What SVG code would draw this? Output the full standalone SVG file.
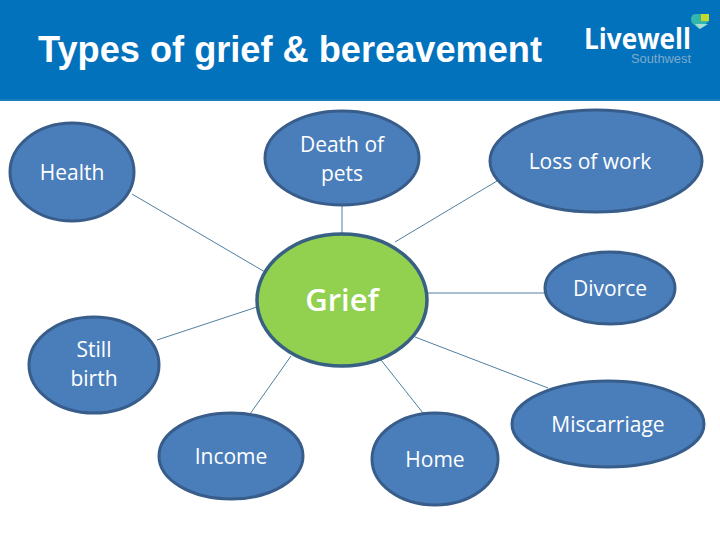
<svg xmlns="http://www.w3.org/2000/svg" width="720" height="540" viewBox="0 0 720 540">
<style>
.n{fill:#4a7ebb;stroke:#385d8a;stroke-width:3}
.g{fill:#92d050;stroke:#376083;stroke-width:3.5}
.c{stroke:#4f7f9f;stroke-width:1;fill:none}
.t{font-family:"Open Sans","Noto Sans",sans-serif;font-size:21px;fill:#fff;text-anchor:middle}
</style>
<rect width="720" height="540" fill="#fff"/>
<g id="header">
<rect width="720" height="100" fill="#0272bd"/>
<rect y="99" width="720" height="2" fill="#1b7db8"/>
<text x="38" y="62" font-family="'Liberation Sans',Arial,sans-serif" font-weight="700" font-size="36px" fill="#fff" textLength="504" lengthAdjust="spacingAndGlyphs">Types of grief &amp; bereavement</text>
</g>
<g id="logo">
<text x="584" y="49" font-family="'Open Sans','Noto Sans',sans-serif" font-weight="700" font-size="29px" fill="#fff" textLength="107" lengthAdjust="spacingAndGlyphs">Livewell</text>
<text x="631" y="63" font-family="'Liberation Sans',sans-serif" font-size="13px" fill="#7fa9c9" textLength="60" lengthAdjust="spacingAndGlyphs">Southwest</text>
<path d="M691 18q1-4 5-4h6v7h7l-1 1-9 7-7-6q-1-2-1-5z" fill="#35b6ab"/>
<path d="M700 29l-5-5h13z" fill="#a7dcd5"/>
<rect x="701" y="14" width="8" height="7" fill="#c5d92d"/>
</g>
<g id="connectors">
<line class="c" x1="132" y1="194" x2="265" y2="272"/>
<line class="c" x1="342" y1="205" x2="342" y2="233"/>
<line class="c" x1="497" y1="181" x2="395" y2="242"/>
<line class="c" x1="545" y1="293" x2="428" y2="293"/>
<line class="c" x1="548" y1="388" x2="415" y2="337"/>
<line class="c" x1="423" y1="413" x2="381" y2="360"/>
<line class="c" x1="250" y1="414" x2="291" y2="356"/>
<line class="c" x1="157" y1="340" x2="257" y2="307"/>
</g>
<g id="health"><ellipse class="n" cx="72" cy="172" rx="62" ry="49"/><text class="t" x="72" y="180">Health</text></g>
<g id="pets"><ellipse class="n" cx="342" cy="158" rx="77" ry="47"/><text class="t" x="342" y="152">Death of</text><text class="t" x="342" y="181">pets</text></g>
<g id="work"><ellipse class="n" cx="596" cy="161" rx="106" ry="51"/><text class="t" x="590" y="169">Loss of work</text></g>
<g id="grief"><ellipse class="g" cx="342" cy="300" rx="85" ry="66"/><text class="t" x="342" y="311" style="font-size:31px;font-weight:600">Grief</text></g>
<g id="divorce"><ellipse class="n" cx="610" cy="288" rx="65" ry="36"/><text class="t" x="610" y="296">Divorce</text></g>
<g id="still"><ellipse class="n" cx="94" cy="365" rx="65" ry="48"/><text class="t" x="94" y="357">Still</text><text class="t" x="94" y="386">birth</text></g>
<g id="miscarriage"><ellipse class="n" cx="608" cy="424" rx="96" ry="43"/><text class="t" x="608" y="432">Miscarriage</text></g>
<g id="income"><ellipse class="n" cx="231" cy="456" rx="72" ry="43"/><text class="t" x="231" y="464">Income</text></g>
<g id="home"><ellipse class="n" cx="435" cy="459" rx="63" ry="46"/><text class="t" x="435" y="467">Home</text></g>
</svg>
